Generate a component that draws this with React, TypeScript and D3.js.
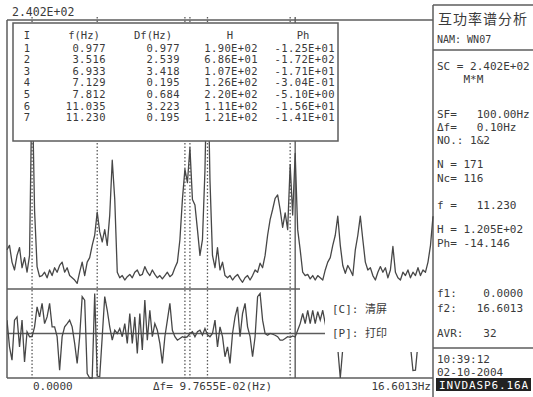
import React from "react";
import * as d3 from "d3";

// spectrum: 171 lines, df = 0.097655 Hz
const DF = 0.097655;
const amp = [
  35, 39, 24, 17, 30, 37, 19, 28, 15, 30, 190, 70, 20, 11, 12, 15, 10, 17, 12, 19,
  15, 21, 24, 15, 19, 12, 10, 8, 5, 15, 24, 12, 24, 28, 39, 48, 68.6, 51, 42, 53,
  39, 66, 115, 80, 15, 10, 12, 8, 11, 13, 10, 15, 17, 12, 13, 20, 15, 12, 17, 13,
  10, 12, 9, 12, 15, 11, 13, 19, 24, 44, 80, 107, 95, 126, 80, 75, 53, 30, 44, 106,
  220, 97, 30, 19, 37, 17, 24, 12, 10, 12, 8, 11, 13, 9, 6, 10, 12, 8, 12, 17,
  15, 23, 19, 30, 48, 62, 71, 81, 84, 71, 55, 68, 53, 111, 66, 121, 53, 35, 15, 12,
  13, 9, 12, 8, 12, 10, 8, 17, 24, 28, 39, 48, 65, 39, 21, 14, 21, 17, 12, 35,
  48, 65, 44, 24, 17, 19, 12, 8, 15, 20, 15, 19, 10, 17, 38, 15, 10, 8, 15, 12,
  17, 10, 15, 12, 19, 12, 17, 15, 24, 39, 65,
];
// phase in degrees
const phase = [
  54, -54, -108, 54, 67, -54, 54, -115, 7, -13, -12.5, 27, 108, 67, 122, 40, 67, 122, 27, 27,
  -13, -148, -13, 27, 40, 54, 27, -40, -121, -13, 149, 135, -162, -200, -200, 162, -172, -175, -13, 149,
  94, 27, -27, 13, 0, 20, -13, 40, -40, 81, -40, 67, -81, 81, -67, 135, -27, 94, -13, 40,
  13, -40, -121, -13, 54, 122, 13, -13, -27, -20, -13, -17.1, -13, -0.3, 7, -13, 7, 13, -7, 20,
  -5.1, -13, 0, 54, -54, 27, -13, -94, -54, -121, 0, 67, 108, -13, 81, 122, 27, -13, -94, -13,
  149, 162, 54, 0, -7, 0, -3, -7, -13, -27, -27, -20, -13, -15.6, -10, -14.1, 13, 40, 81, 40,
  94, 40, 94, 40, 88, 54, 94, 40, 60, -20, 30, -10, -60, -185, -60, 20, 45, -30, 70, 10,
  -40, 25, 90, -15, 50, -35, 15, 60, -25, 35, -50, 5, 80, -20, 40, -45, 20, 65, -10, 30,
  -30, -50, -150, -148, -40, 20, -30, 50, 10, -20, 30,
];

// peak table
const peakNo = ["1", "2", "3", "4", "5", "6", "7"];
const peakIdx = [10, 36, 71, 73, 80, 113, 115];
const peakF = ["0.977", "3.516", "6.933", "7.129", "7.812", "11.035", "11.230"];
const peakDf = ["0.977", "2.539", "3.418", "0.195", "0.684", "3.223", "0.195"];
const peakH = ["1.90E+02", "6.86E+01", "1.07E+02", "1.26E+02", "2.20E+02", "1.11E+02", "1.21E+02"];
const peakPh = ["-1.25E+01", "-1.72E+02", "-1.71E+01", "-3.04E-01", "-5.10E+00", "-1.56E+01", "-1.41E+01"];
const tableHead = ["I", "f(Hz)", "Df(Hz)", "H", "Ph"];

// side panel
const panelTitle = "互功率谱分析";
const panelName = "NAM: WN07";
const panelLines = [
  { t: "SC = 2.402E+02", y: 66 },
  { t: "    M*M", y: 79 },
  { t: "SF=   100.00Hz", y: 114 },
  { t: "Δf=   0.10Hz", y: 127 },
  { t: "NO.: 1&2", y: 140 },
  { t: "N = 171", y: 164 },
  { t: "Nc= 116", y: 178 },
  { t: "f =   11.230", y: 205 },
  { t: "H = 1.205E+02", y: 229 },
  { t: "Ph= -14.146", y: 243 },
  { t: "f1:    0.0000", y: 293 },
  { t: "f2:   16.6013", y: 308 },
  { t: "AVR:   32", y: 333 },
  { t: "10:39:12", y: 359 },
  { t: "02-10-2004", y: 372 },
];
const maxLabel = "2.402E+02";
const fMin = "0.0000";
const fMax = "16.6013Hz";
const dfLabel = "Δf= 9.7655E-02(Hz)";
const menuItems = ["[C]: 清屏", "[P]: 打印"];
const badge = "INVDASP6.16A";

const mono = "'DejaVu Sans Mono', 'Noto Sans CJK SC', monospace";
const ink = "#3a3a3a";
const lineCol = "#5c5c5c";

export default function App() {
  const L = 7, R = 433, TOP = 20, SEP = 289, BOT = 378;
  const freqs = d3.range(amp.length).map((i) => i * DF);
  const x = d3.scaleLinear().domain([0, 16.6013]).range([L, R]);
  const yH = d3.scaleLinear().domain([0, 240.2]).range([SEP, TOP]);
  const yP = d3.scaleLinear().domain([-180, 180]).range([BOT, SEP]).clamp(true);

  const specPath = d3.line<number>().x((_, i) => x(freqs[i])).y((d) => yH(d))(amp) || "";
  const phPath = d3.line<number>().x((_, i) => x(freqs[i])).y((d) => yP(d))(phase) || "";

  const colRight = [0, 106, 180, 258, 335];
  const headX = [27, 84, 153, 230, 303];
  const rowY = (k: number) => 51.5 + k * 11.6;

  return (
    <div style={{ position: "absolute", left: 0, top: 0 }}>
      <svg width={533} height={397} style={{ display: "block", background: "#fff" }}>
        <defs>
          <clipPath id="phClip">
            <rect x={L} y={SEP} width={318} height={BOT - SEP + 1} />
            <rect x={325} y={352} width={R - 325} height={BOT - 352 + 1} />
          </clipPath>
        </defs>

        <text x={12} y={16} fontFamily={mono} fontSize={11.5} fill={ink}>{maxLabel}</text>

        {/* frame */}
        <g stroke={lineCol} strokeWidth={1.5} fill="none">
          <line x1={L} y1={TOP} x2={R} y2={TOP} />
          <line x1={L} y1={TOP} x2={L} y2={BOT} />
          <line x1={L} y1={BOT} x2={R} y2={BOT} />
          <line x1={R} y1={5} x2={R} y2={397} />
          <line x1={L} y1={SEP} x2={300} y2={SEP} />
          <line x1={L} y1={yP(0)} x2={325} y2={yP(0)} />
        </g>

        {/* cursor lines */}
        {peakIdx.map((pi, k) => (
          <line key={k} x1={x(freqs[pi])} x2={x(freqs[pi])} y1={17} y2={BOT}
            stroke={lineCol} strokeWidth={k === 6 ? 1.4 : 1.3}
            strokeDasharray={k === 6 ? undefined : "1.5,2"} />
        ))}

        <path d={specPath} fill="none" stroke="#474747" strokeWidth={1.3} strokeLinejoin="round" />
        <path d={phPath} fill="none" stroke="#474747" strokeWidth={1.3} clipPath="url(#phClip)" />

        {/* peak table */}
        <rect x={13} y={23} width={325} height={118} fill="#fff" stroke={lineCol} strokeWidth={1.5} />
        {tableHead.map((h, c) => (
          <text key={h} x={headX[c]} y={39} textAnchor="middle" fontFamily={mono} fontSize={10.5} fill={ink}>{h}</text>
        ))}
        {peakNo.map((n, k) => (
          <g key={n} fontFamily={mono} fontSize={10.5} fill={ink} letterSpacing={0.4}>
            <text x={27} y={rowY(k)} textAnchor="middle">{n}</text>
            <text x={colRight[1]} y={rowY(k)} textAnchor="end">{peakF[k]}</text>
            <text x={colRight[2]} y={rowY(k)} textAnchor="end">{peakDf[k]}</text>
            <text x={colRight[3]} y={rowY(k)} textAnchor="end">{peakH[k]}</text>
            <text x={colRight[4]} y={rowY(k)} textAnchor="end">{peakPh[k]}</text>
          </g>
        ))}

        {/* menu */}
        {menuItems.map((m, k) => (
          <text key={m} x={332} y={313 + k * 24} fontFamily={mono} fontSize={11} fill={ink}>{m}</text>
        ))}

        {/* axis labels */}
        <g fontFamily={mono} fontSize={11} fill={ink}>
          <text x={33} y={390}>{fMin}</text>
          <text x={153} y={390}>{dfLabel}</text>
          <text x={431} y={390} textAnchor="end">{fMax}</text>
        </g>

        {/* side panel */}
        <g stroke={lineCol} strokeWidth={1.5}>
          <line x1={R} y1={5} x2={533} y2={5} />
          <line x1={R} y1={50} x2={533} y2={50} />
          <line x1={R} y1={348} x2={533} y2={348} />
        </g>
        <text x={483} y={24} textAnchor="middle" fontFamily="'Noto Sans CJK SC'" fontSize={14} fill={ink} letterSpacing={1}>{panelTitle}</text>
        <text x={437} y={43} fontFamily={mono} fontSize={10} fill={ink}>{panelName}</text>
        {panelLines.map((p) => (
          <text key={p.t} x={437} y={p.y + 4} fontFamily={mono} fontSize={11} fill={ink} style={{ whiteSpace: "pre" }}>{p.t}</text>
        ))}
        <rect x={436} y={378} width={95} height={13} fill="#222" />
        <text x={439} y={388.5} fontFamily={mono} fontSize={11} fill="#fff" textLength={89}>{badge}</text>
      </svg>
    </div>
  );
}
